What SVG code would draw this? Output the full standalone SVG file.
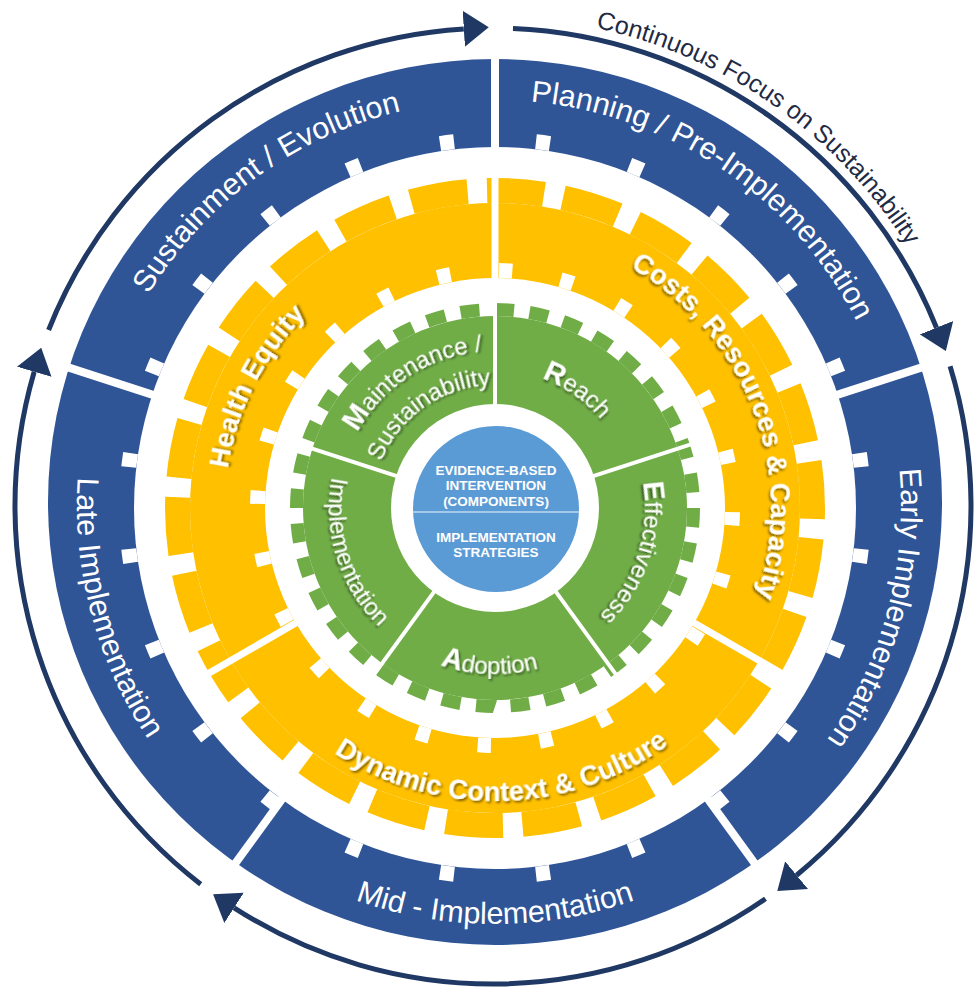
<svg xmlns="http://www.w3.org/2000/svg" width="976" height="990" viewBox="0 0 976 990">
<defs>
<style>
.lbl{font-family:"Liberation Sans",Arial,sans-serif;fill:#fff;text-anchor:middle}
.blue{font-size:30.5px}
.yel{font-size:27.5px;font-weight:bold;filter:url(#sh)}
.grn{font-size:24px;filter:url(#sh)}
.cap{font-weight:bold;font-size:29px}
.ctr{font-family:"Liberation Sans",Arial,sans-serif;font-weight:bold;font-size:13.5px;fill:#fff;text-anchor:middle}
.arc{fill:none;stroke:#1F3864;stroke-width:5;marker-end:url(#ah)}
.wd{stroke:#fff;fill:none}
.cont{font-family:"Liberation Sans",Arial,sans-serif;font-size:25px;fill:#1F2A44;text-anchor:middle}
</style>
<filter id="sh" x="-10%" y="-10%" width="130%" height="130%"><feDropShadow dx="1.5" dy="2" stdDeviation="1.2" flood-color="#000" flood-opacity="0.5"/></filter>
<marker id="ah" markerUnits="userSpaceOnUse" markerWidth="25" markerHeight="36" viewBox="0 0 25 36" refX="0" refY="18" orient="auto"><path d="M0,0 L25,18 L0,36 z" fill="#1F3864"/></marker>
<path id="pcont" d="M0,489 A489,489 0 1 1 0,-489 A489,489 0 1 1 0,489"/>
<path id="pbcw" d="M0,406 A406,406 0 1 1 0,-406 A406,406 0 1 1 0,406"/>
<path id="pbccw" d="M0,-418 A418,418 0 1 0 0,418 A418,418 0 1 0 0,-418"/>
<path id="phe" d="M0,270 A270,270 0 1 1 0,-270 A270,270 0 1 1 0,270"/>
<path id="pcost" d="M0,276 A276,276 0 1 1 0,-276 A276,276 0 1 1 0,276"/>
<path id="pdyn" d="M0,-293 A293,293 0 1 0 0,293 A293,293 0 1 0 0,-293"/>
<path id="preach" d="M0,138 A138,138 0 1 1 0,-138 A138,138 0 1 1 0,138"/>
<path id="peff" d="M0,150 A150,150 0 1 1 0,-150 A150,150 0 1 1 0,150"/>
<path id="pmaint" d="M0,157 A157,157 0 1 1 0,-157 A157,157 0 1 1 0,157"/>
<path id="psust" d="M0,123 A123,123 0 1 1 0,-123 A123,123 0 1 1 0,123"/>
<path id="pgccw" d="M0,-166 A166,166 0 1 0 0,166 A166,166 0 1 0 0,-166"/>
</defs>
<rect width="976" height="990" fill="#fff"/>

<g id="phase-ring">
<ellipse cx="495" cy="502" rx="447" ry="443" fill="#2F5597"/>
<g transform="translate(495,508)">
<circle r="361" fill="#fff"/>
<circle r="368.5" class="wd" stroke-width="15" pathLength="360" stroke-dasharray="2.2 12.8" stroke-dashoffset="-6.4"/>
</g>
<g transform="translate(495,506)" stroke="#fff" stroke-width="8">
<line x1="0" y1="-350" x2="0" y2="-452"/>
<line x1="0" y1="-350" x2="0" y2="-452" transform="rotate(72)"/>
<line x1="0" y1="-350" x2="0" y2="-452" transform="rotate(144)"/>
<line x1="0" y1="-350" x2="0" y2="-452" transform="rotate(216)"/>
<line x1="0" y1="-350" x2="0" y2="-452" transform="rotate(288)"/>
</g>
</g>

<g id="context-gear" transform="translate(495,508)">
<circle r="305" fill="#FFC000"/>
<circle r="317.5" fill="none" stroke="#FFC000" stroke-width="25" pathLength="360" stroke-dasharray="10.346 3.5" stroke-dashoffset="8.375"/>
<circle r="230" fill="#fff"/>
<circle r="237.5" class="wd" stroke-width="15" pathLength="360" stroke-dasharray="3.2 11.8" stroke-dashoffset="-1"/>
<g stroke="#fff" stroke-width="7">
<line x1="0" y1="-225" x2="0" y2="-342"/>
<line x1="0" y1="-225" x2="0" y2="-342" transform="rotate(120)"/>
<line x1="0" y1="-225" x2="0" y2="-342" transform="rotate(240)"/>
</g>
</g>

<g id="reaim-gear" transform="translate(495,508)">
<circle r="192" fill="#70AD47"/>
<circle r="198.5" fill="none" stroke="#70AD47" stroke-width="13" pathLength="360" stroke-dasharray="5.5 4.5"/>
<g stroke="#fff" stroke-width="4">
<line x1="0" y1="-100" x2="0" y2="-214"/>
<line x1="0" y1="-100" x2="0" y2="-214" transform="rotate(72)"/>
<line x1="0" y1="-100" x2="0" y2="-214" transform="rotate(144)"/>
<line x1="0" y1="-100" x2="0" y2="-214" transform="rotate(216)"/>
<line x1="0" y1="-100" x2="0" y2="-214" transform="rotate(288)"/>
</g>
<circle r="104" fill="#fff"/>
</g>

<g id="core">
<circle cx="496" cy="509" r="83" fill="#5B9BD5"/>
<line x1="413" y1="512" x2="579" y2="512" stroke="#BDD7EE" stroke-width="1.5"/>
<text class="ctr" x="496" y="475">EVIDENCE-BASED</text>
<text class="ctr" x="496" y="490">INTERVENTION</text>
<text class="ctr" x="496" y="505.5">(COMPONENTS)</text>
<text class="ctr" x="496" y="542">IMPLEMENTATION</text>
<text class="ctr" x="496" y="557">STRATEGIES</text>
</g>

<g id="connectors">
<path class="arc" d="M48.6,330 A478,478 0 0 1 463.8,28.9"/>
<path class="arc" d="M513,28.4 A478,478 0 0 1 936.5,327.7"/>
<path class="arc" d="M950.1,366.2 A478,478 0 0 1 796.6,875.2"/>
<path class="arc" d="M765.5,898.7 A478,478 0 0 1 234.1,907.8"/>
<path class="arc" d="M200.7,884.2 A478,478 0 0 1 34.2,371.8"/>
</g>

<g id="continuous-focus" transform="translate(493,506) rotate(35)">
<text class="cont"><textPath href="#pcont" startOffset="50%">Continuous Focus on Sustainability</textPath></text>
</g>

<g id="sustainment" transform="translate(495,506) rotate(-36)">
<text class="lbl blue"><textPath href="#pbcw" startOffset="50%">Sustainment / Evolution</textPath></text>
</g>
<g id="planning" transform="translate(495,506) rotate(34)">
<text class="lbl blue"><textPath href="#pbcw" startOffset="50%">Planning / Pre-Implementation</textPath></text>
</g>
<g id="early" transform="translate(495,506) rotate(105)">
<text class="lbl blue"><textPath href="#pbcw" startOffset="50%">Early Implementation</textPath></text>
</g>
<g id="mid" transform="translate(495,506) rotate(0)">
<text class="lbl blue"><textPath href="#pbccw" startOffset="50%">Mid - Implementation</textPath></text>
</g>
<g id="late" transform="translate(495,506) rotate(75)">
<text class="lbl blue"><textPath href="#pbccw" startOffset="50%">Late Implementation</textPath></text>
</g>

<g id="health-equity" transform="translate(495,508) rotate(-63)">
<text class="lbl yel"><textPath href="#phe" startOffset="50%">Health Equity</textPath></text>
</g>
<g id="costs" transform="translate(495,508) rotate(69)">
<text class="lbl yel"><textPath href="#pcost" startOffset="50%">Costs, Resources &amp; Capacity</textPath></text>
</g>
<g id="dynamic-context" transform="translate(495,508) rotate(-1.5)">
<text class="lbl yel"><textPath href="#pdyn" startOffset="50%">Dynamic Context &amp; Culture</textPath></text>
</g>

<g id="reach" transform="translate(495,508) rotate(35)">
<text class="lbl grn"><textPath href="#preach" startOffset="50%"><tspan class="cap">R</tspan>each</textPath></text>
</g>
<g id="effectiveness" transform="translate(495,508) rotate(108)">
<text class="lbl grn"><textPath href="#peff" startOffset="50%"><tspan class="cap">E</tspan>ffectiveness</textPath></text>
</g>
<g id="adoption" transform="translate(495,508) rotate(2)">
<text class="lbl grn"><textPath href="#pgccw" startOffset="50%"><tspan class="cap">A</tspan>doption</textPath></text>
</g>
<g id="implementation" transform="translate(495,508) rotate(72.5)">
<text class="lbl grn"><textPath href="#pgccw" startOffset="50%">Implementation</textPath></text>
</g>
<g id="maintenance" transform="translate(495,508)">
<text class="lbl grn" transform="rotate(-33)"><textPath href="#pmaint" startOffset="50%"><tspan class="cap">M</tspan>aintenance /</textPath></text>
<text class="lbl grn" transform="rotate(-35)"><textPath href="#psust" startOffset="50%">Sustainability</textPath></text>
</g>
</svg>
